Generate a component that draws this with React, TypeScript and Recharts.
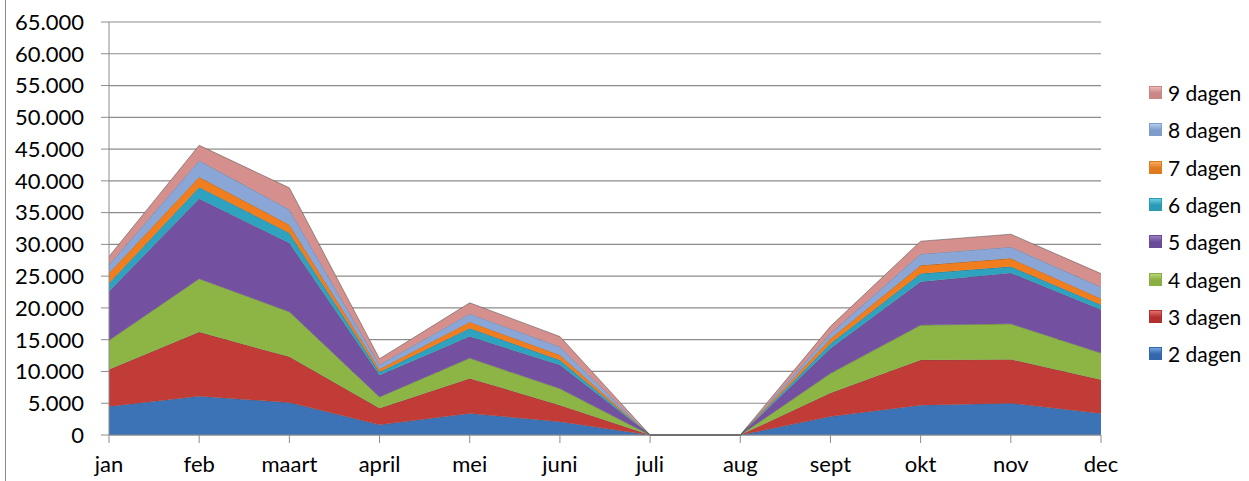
import { Area, AreaChart, CartesianGrid, Legend, XAxis, YAxis } from "recharts";

const months = ["jan", "feb", "maart", "april", "mei", "juni", "juli", "aug", "sept", "okt", "nov", "dec"];

const dagen2 = [4500, 6100, 5100, 1600, 3400, 2100, 0, 0, 2900, 4700, 5000, 3400];
const dagen3 = [5800, 10100, 7200, 2600, 5500, 2600, 0, 0, 3700, 7100, 6900, 5300];
const dagen4 = [4600, 8400, 7100, 1800, 3200, 2600, 0, 0, 3100, 5500, 5600, 4200];
const dagen5 = [7700, 12600, 10800, 3400, 3400, 3700, 0, 0, 3900, 6800, 8000, 6800];
const dagen6 = [1300, 1800, 1600, 500, 1300, 800, 0, 0, 800, 1300, 1000, 800];
const dagen7 = [1600, 1600, 1300, 500, 1000, 800, 0, 0, 800, 1300, 1300, 1000];
const dagen8 = [1300, 2600, 2400, 700, 1300, 1300, 0, 0, 800, 1800, 1800, 1800];
const dagen9 = [1300, 2400, 3400, 900, 1700, 1600, 0, 0, 1100, 2000, 2000, 2100];

const yTicks = [0, 5000, 10000, 15000, 20000, 25000, 30000, 35000, 40000, 45000, 50000, 55000, 60000, 65000];

const series = [
  { key: "d2", name: "2 dagen", values: dagen2, fill: "#3C73B6", edge: "#6FA3E0", mark: "#3466AE" },
  { key: "d3", name: "3 dagen", values: dagen3, fill: "#C13B37", edge: "#E2706B", mark: "#B3302E" },
  { key: "d4", name: "4 dagen", values: dagen4, fill: "#8DB546", edge: "#B5D877", mark: "#8BAE42" },
  { key: "d5", name: "5 dagen", values: dagen5, fill: "#7350A0", edge: "#9B7DC4", mark: "#6A4B98" },
  { key: "d6", name: "6 dagen", values: dagen6, fill: "#2FA2BF", edge: "#6BCCE2", mark: "#2A9AB5" },
  { key: "d7", name: "7 dagen", values: dagen7, fill: "#F07D1E", edge: "#F9A965", mark: "#E07A1F" },
  { key: "d8", name: "8 dagen", values: dagen8, fill: "#8AA6D6", edge: "#B5CBEE", mark: "#7F9CCB" },
  { key: "d9", name: "9 dagen", values: dagen9, fill: "#D5908E", edge: "#EDB9B7", mark: "#C98886" },
];

const data = months.map((m, i) => {
  const row: Record<string, string | number> = { month: m };
  series.forEach((s) => {
    row[s.key] = s.values[i];
  });
  return row;
});

const FONT = "Lato, 'Open Sans', sans-serif";

const fmtY = (v: number): string => (v === 0 ? "0" : `${v / 1000}.000`);

function LegendBox() {
  return (
    <div style={{ fontFamily: FONT, fontSize: 21, color: "#000" }}>
      {[...series].reverse().map((s) => (
        <div key={s.key} style={{ display: "flex", alignItems: "center", height: 37.3 }}>
          <span
            style={{
              width: 13,
              height: 13,
              marginRight: 6,
              background: `linear-gradient(180deg, ${s.edge} 0%, ${s.mark} 55%, ${s.mark} 100%)`,
              border: `1px solid ${s.mark}`,
              boxSizing: "border-box",
            }}
          />
          <span style={{ lineHeight: "37px" }}>{s.name}</span>
        </div>
      ))}
    </div>
  );
}

export default function App() {
  return (
    <div style={{ position: "absolute", left: 0, top: 0, width: 1249, height: 481, background: "#fff" }}>
      <div style={{ position: "absolute", left: 5, top: 0, width: 1, height: 481, background: "#8a8a8a" }} />
      <AreaChart
        width={1249}
        height={481}
        data={data}
        margin={{ top: 22, right: 148, left: 0, bottom: 0 }}
      >
        <CartesianGrid horizontal vertical={false} stroke="#8c8c8c" strokeWidth={1.2} />
        <XAxis
          dataKey="month"
          height={46}
          stroke="#8c8c8c"
          tickSize={8}
          tickMargin={13}
          tick={{ fill: "#000", fontSize: 22, fontFamily: FONT }}
          interval={0}
        />
        <YAxis
          width={109}
          domain={[0, 65000]}
          ticks={yTicks}
          tickFormatter={fmtY}
          stroke="#8c8c8c"
          tickSize={8}
          tickMargin={17}
          tick={{ fill: "#000", fontSize: 22, fontFamily: FONT }}
          interval={0}
        />
        <Legend
          layout="horizontal"
          verticalAlign="middle"
          align="center"
          content={() => <LegendBox />}
          wrapperStyle={{ left: 1149, top: 74, width: 100 }}
        />
        {series.map((s) => (
          <Area
            key={s.key}
            type="linear"
            dataKey={s.key}
            name={s.name}
            stackId="1"
            fill={s.fill}
            fillOpacity={1}
            stroke="#4a4a4a"
            strokeOpacity={0.5}
            strokeWidth={1}
            isAnimationActive={false}
          />
        ))}
      </AreaChart>
    </div>
  );
}
